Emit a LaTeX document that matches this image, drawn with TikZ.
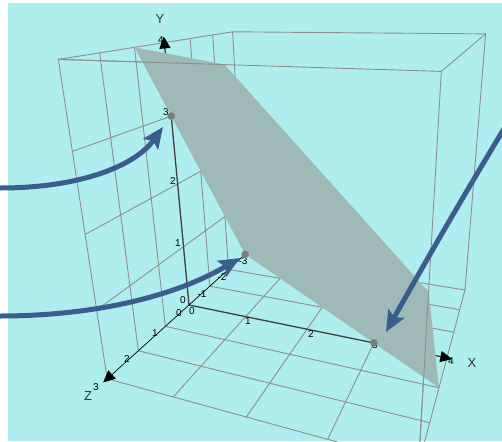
\documentclass[tikz,border=0pt]{standalone}
\usepackage{fontspec}
\setmainfont{Liberation Sans}
\usetikzlibrary{arrows.meta}
\definecolor{bgc}{HTML}{AFEEEE}
\definecolor{gridc}{HTML}{8E8E8E}
\definecolor{planec}{RGB}{159,184,184}
\definecolor{arrc}{RGB}{59,93,140}
\definecolor{dotc}{RGB}{125,125,125}
\newcommand\Pt[4]{\pgfmathsetmacro\tmpu{pu(#2,#3,#4)}\pgfmathsetmacro\tmpv{pv(#2,#3,#4)}\coordinate (#1) at (\tmpu,\tmpv);}
\begin{document}
\begin{tikzpicture}[x=1pt,y=-1pt,
  declare function={dd(\xx,\yy,\zz)=1-0.03915*\xx-0.0357*\yy-0.062*\zz;
    pu(\xx,\yy,\zz)=(189+46.98*\xx-12.03*\yy-33.91*\zz)/dd(\xx,\yy,\zz);
    pv(\xx,\yy,\zz)=(305-0.783*\xx-67.12*\yy+1.116*\zz)/dd(\xx,\yy,\zz);},
  gridl/.style={draw=gridc,line width=0.9pt},
  axdark/.style={draw=black!75,line width=1.3pt},
  axthin/.style={draw=black,line width=0.7pt},
  axtip/.style={-{Triangle[length=12pt,width=11pt,color=black]}},
  bluearrow/.style={draw=arrc,line width=5pt,-{Stealth[length=21pt,width=18pt,inset=4pt]}},
  ticklab/.style={font=\fontsize{10}{10}\selectfont,inner sep=0pt},
  axlab/.style={font=\fontsize{13}{13}\selectfont,inner sep=0pt,text=black!80}]
\useasboundingbox (0,0) rectangle (502,441);
\clip (0,0) rectangle (502,441);
\fill[white] (0,0) rectangle (502,441);
\fill[bgc] (8,3) rectangle (502,441);
% box corners and key points
\Pt{A}{0}{0}{3} \Pt{B}{0}{4}{3} \Pt{C}{0}{4}{-3} \Pt{D}{0}{0}{-3}
\Pt{E}{4}{4}{-3} \Pt{F}{4}{0}{-3} \Pt{G}{4}{4}{3} \Pt{H}{4}{0}{3}
\Pt{O}{0}{0}{0} \Pt{X3}{3}{0}{0} \Pt{Y3}{0}{3}{0}
\Pt{X4}{4.07}{0}{0} \Pt{Y4}{0}{4.08}{0} \Pt{Z3}{0}{0}{3.12}
\Pt{P1}{0}{4}{1} \Pt{P2}{2}{4}{3} \Pt{P3}{4}{2}{3} \Pt{P4}{4}{0}{1}
% grid on the wall x=0
\foreach \k in {-2,-1,1,2} {\Pt{ga}{0}{0}{\k} \Pt{gb}{0}{4}{\k} \draw[gridl] (ga)--(gb);}
\foreach \k in {1,2,3} {\Pt{ga}{0}{\k}{-3} \Pt{gb}{0}{\k}{3} \draw[gridl] (ga)--(gb);}
% grid on the floor y=0
\foreach \k in {1,2,3} {\Pt{ga}{\k}{0}{-3} \Pt{gb}{\k}{0}{3} \draw[gridl] (ga)--(gb);}
\foreach \k in {-2,-1,1,2} {\Pt{ga}{0}{0}{\k} \Pt{gb}{4}{0}{\k} \draw[gridl] (ga)--(gb);}
% box edges
\draw[gridl] (A)--(B)--(C)--(D);
\draw[gridl] (B)--(G)--(H)--(A);
\draw[gridl] (C)--(E)--(F)--(D);
\draw[gridl] (G)--(E);
\draw[gridl] (H)--(F);
% tick labels partly hidden
\node[ticklab] (ly3) at (166,112) {3};
\node[ticklab] (ly4) at (161,40) {4};
\node[ticklab] (lx4) at (451,361) {4};
% axes parts behind the plane
\draw[axdark,axtip] (Y3)--(Y4);
\draw[axdark,axtip] (X3)--(X4);
% the plane
\fill[planec] (D)--(P1)--(P2)--(P3)--(P4)--cycle;
% edges in front of the plane
\draw[gridl] (B)--(P2);
\draw[gridl] (H)--(P3);
% axes in front
\draw[axdark] (O)--(Y3);
\draw[axdark] (O)--(X3);
\draw[axthin,axtip] (D)--(Z3);
% tick labels
\node[ticklab] (ly0) at (183,300) {0};
\node[ticklab] (ly1) at (178,243) {1};
\node[ticklab] (ly2) at (173,181) {2};
\node[ticklab] (lz0) at (179,313) {0};
\node[ticklab] (lz1) at (155,333) {1};
\node[ticklab] (lz2) at (127,359) {2};
\node[ticklab] (lz3) at (96,387) {3};
\node[ticklab] (lzm1) at (202,294) {-1};
\node[ticklab] (lzm2) at (222,277) {-2};
\node[ticklab] (lzm3) at (243,261) {-3};
\node[ticklab] (lx0) at (192,311) {0};
\node[ticklab] (lx1) at (248,321) {1};
\node[ticklab] (lx2) at (311,334) {2};
\node[ticklab] (lx3) at (375,345) {3};
% point markers
\fill[dotc] (Y3) circle (3.8);
\fill[dotc] (D) circle (3.8);
\fill[dotc] (X3) circle (3.8);
% axis names
\node[axlab] (ny) at (160,19) {Y};
\node[axlab] (nx) at (472,363) {X};
\node[axlab] (nz) at (88,396) {Z};
% blue arrows
\coordinate (s1) at (0,188);
\coordinate (s2) at (0,316);
\coordinate (s3) at (508,122);
\coordinate (t1) at (163,127);
\coordinate (t2) at (240,258);
\coordinate (t3) at (386,332);
\draw[bluearrow] (s1) .. controls (80,188) and (135,166) .. (t1);
\draw[bluearrow] (s2) .. controls (90,316) and (172,298) .. (t2);
\draw[bluearrow] (s3) .. controls (470,185) and (432,250) .. (t3);
\end{tikzpicture}
\end{document}
